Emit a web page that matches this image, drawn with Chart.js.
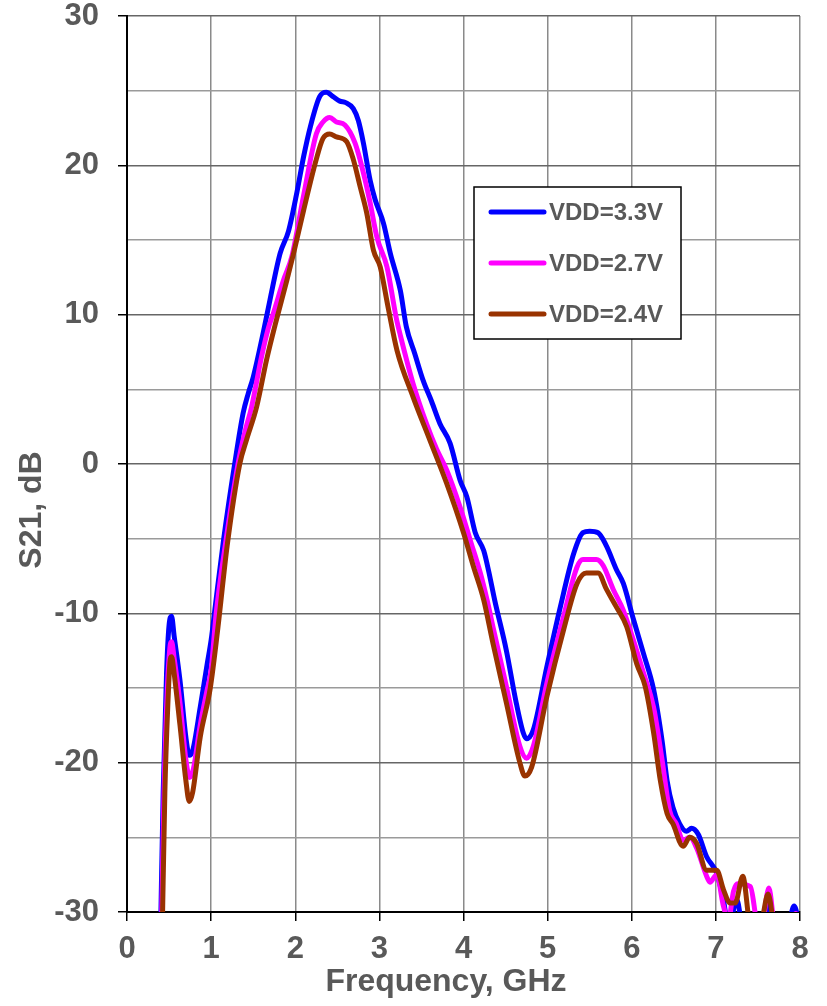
<!DOCTYPE html>
<html>
<head>
<meta charset="utf-8">
<script src="https://cdn.jsdelivr.net/npm/chart.js@4/dist/chart.umd.min.js"></script>
<style>
html,body{margin:0;padding:0;background:#fff;}
#wrap{width:827px;height:1006px;position:relative;}
</style>
</head>
<body>
<div id="wrap"><canvas id="c"></canvas></div>
<script>
// ---- Data ----
const seriesLabels = ['VDD=3.3V', 'VDD=2.7V', 'VDD=2.4V'];
const seriesColors = ['#0000FF', '#FF00FF', '#993300'];

const freq33 = [0.40,0.43,0.47,0.50,0.53,0.56,0.63,0.70,0.74,0.78,0.87,0.95,1.00,1.05,1.15,1.28,1.38,1.44,1.50,1.62,1.70,1.82,1.92,2.02,2.10,2.18,2.29,2.37,2.45,2.53,2.60,2.69,2.75,2.81,2.89,2.95,3.05,3.13,3.25,3.32,3.42,3.52,3.62,3.72,3.84,3.96,4.04,4.14,4.24,4.30,4.37,4.51,4.62,4.71,4.75,4.83,4.99,5.15,5.31,5.42,5.50,5.60,5.70,5.82,5.90,6.02,6.14,6.26,6.36,6.42,6.49,6.57,6.65,6.71,6.79,6.89,7.01,7.09,7.15,7.25,7.32,7.55,7.62,7.70,7.85,7.93,7.98,8.00];
const s21_33  = [-31,-22,-14,-10.8,-10.2,-11.5,-14.5,-18.3,-19.5,-19.2,-16.3,-13.5,-11.8,-9.5,-5.0,0.0,3.4,4.7,5.8,8.8,11.0,14.1,15.6,18.2,20.6,22.6,24.6,24.9,24.6,24.3,24.2,23.8,23.0,21.5,19.0,17.7,16.1,14.1,11.6,9.2,7.4,5.6,4.2,2.7,1.4,-1.1,-2.2,-4.6,-5.8,-7.2,-9.1,-12.5,-15.8,-18.0,-18.4,-17.8,-13.6,-9.6,-6.0,-4.6,-4.5,-4.6,-5.5,-7.1,-8.0,-10.4,-12.7,-15.1,-18.5,-21.2,-23.0,-24.1,-24.6,-24.4,-24.8,-26.3,-27.4,-29.2,-31,-29.2,-31,-31,-29.4,-31,-31,-29.6,-30.5,-31];

const freq27 = [0.41,0.44,0.48,0.51,0.53,0.56,0.63,0.70,0.745,0.79,0.87,0.95,1.00,1.06,1.18,1.32,1.40,1.48,1.60,1.68,1.74,1.86,1.96,2.10,2.25,2.33,2.41,2.49,2.59,2.71,2.81,2.89,2.97,3.09,3.20,3.25,3.40,3.56,3.68,3.80,3.96,4.08,4.20,4.28,4.35,4.51,4.67,4.75,4.83,4.99,5.19,5.35,5.42,5.58,5.66,5.78,5.90,6.02,6.14,6.26,6.36,6.45,6.53,6.61,6.69,6.77,6.89,6.93,7.01,7.09,7.15,7.21,7.26,7.41,7.50,7.56,7.63,7.70,7.90,7.95,8.00];
const s21_27  = [-31,-22,-15,-12.3,-11.9,-13,-16,-19.8,-21.0,-20.4,-17.5,-15.2,-13.8,-10.0,-5.0,0.0,2.1,3.8,7.2,9.1,10.1,12.3,13.9,18.0,22.1,22.9,23.2,22.9,22.7,21.5,19.5,17.5,15.2,13.2,9.8,8.6,5.4,2.7,1.0,-0.4,-2.9,-5.1,-7.3,-9.1,-10.9,-14.9,-18.9,-19.7,-18.9,-14.7,-10.2,-6.9,-6.4,-6.4,-6.8,-8.4,-9.8,-11.8,-14.0,-16.3,-19.8,-23.2,-24.1,-25.2,-25.0,-25.7,-27.6,-28.0,-27.5,-29.6,-30.5,-28.6,-28.1,-28.3,-30.8,-30.5,-28.4,-30.8,-30.5,-30.1,-30.5];

const freq24 = [0.42,0.45,0.49,0.51,0.53,0.56,0.63,0.70,0.74,0.78,0.87,0.99,1.08,1.19,1.34,1.42,1.54,1.66,1.76,1.90,1.98,2.10,2.25,2.33,2.41,2.49,2.61,2.69,2.77,2.85,2.93,3.01,3.10,3.21,3.40,3.60,3.80,4.00,4.12,4.24,4.35,4.51,4.67,4.73,4.81,4.99,5.19,5.35,5.46,5.60,5.70,5.82,5.94,6.06,6.16,6.26,6.34,6.42,6.49,6.61,6.69,6.77,6.89,7.01,7.09,7.17,7.23,7.32,7.41,7.53,7.62,7.69];
const s21_24  = [-31,-22,-15.5,-13.3,-12.9,-14,-17.5,-21.2,-22.6,-22.0,-18.3,-15.0,-11.0,-5.5,0.0,1.6,3.8,7.0,9.3,12.3,14.1,17.0,20.4,21.8,22.1,21.9,21.6,20.4,18.6,16.8,14.3,13.2,10.6,7.6,4.5,1.6,-1.3,-4.6,-6.9,-9.1,-12.0,-16.0,-20.0,-20.9,-20.3,-15.6,-11.1,-8.0,-7.3,-7.3,-8.4,-9.6,-10.9,-13.4,-14.9,-18.0,-21.2,-23.4,-24.1,-25.6,-25.0,-25.4,-27.2,-27.2,-28.5,-29.4,-29.4,-27.6,-30.8,-30.8,-28.8,-31];

const xTicks = [0,1,2,3,4,5,6,7,8];
const xTickLabels = ['0','1','2','3','4','5','6','7','8'];
const yTicks = [-30,-25,-20,-15,-10,-5,0,5,10,15,20,25,30];
const yTickLabels = ['-30','','-20','','-10','','0','','10','','20','','30'];
const xTitle = 'Frequency, GHz';
const yTitle = 'S21, dB';

// ---- Chart ----
const TEXT = '#595959';
const FONT = '"Liberation Sans", Arial, sans-serif';
const toPts = (xs, ys) => xs.map((x, i) => ({x: x, y: ys[i]}));
const allFreq = [freq33, freq27, freq24];
const allS21 = [s21_33, s21_27, s21_24];

const datasets = seriesLabels.map((lab, i) => ({
  label: lab,
  data: toPts(allFreq[i], allS21[i]),
  borderColor: seriesColors[i],
  backgroundColor: seriesColors[i],
  borderWidth: 5,
  pointRadius: 0,
  fill: false,
  cubicInterpolationMode: 'monotone',
  order: 3 - i
}));

const legendPlugin = {
  id: 'boxLegend',
  afterDraw(chart) {
    const ctx = chart.ctx;
    const x0 = 474, y0 = 187, w = 207, h = 152;
    ctx.save();
    ctx.fillStyle = '#ffffff';
    ctx.fillRect(x0, y0, w, h);
    ctx.strokeStyle = '#000000';
    ctx.lineWidth = 1.5;
    ctx.strokeRect(x0, y0, w, h);
    ctx.font = 'bold 24px ' + FONT;
    ctx.textBaseline = 'middle';
    ctx.textAlign = 'left';
    chart.data.datasets.forEach((ds, i) => {
      const y = 212 + i * 51;
      ctx.strokeStyle = ds.borderColor;
      ctx.lineWidth = 5;
      ctx.lineCap = 'round';
      ctx.beginPath();
      ctx.moveTo(491, y);
      ctx.lineTo(544, y);
      ctx.stroke();
      ctx.fillStyle = TEXT;
      ctx.fillText(ds.label, 549, y + 1);
    });
    ctx.restore();
  }
};

const titlePlugin = {
  id: 'axisTitles',
  afterDraw(chart) {
    const ctx = chart.ctx;
    ctx.save();
    ctx.fillStyle = TEXT;
    ctx.font = 'bold 32px ' + FONT;
    ctx.textAlign = 'center';
    ctx.textBaseline = 'middle';
    ctx.fillText(xTitle, 446, 982);
    ctx.translate(32, 510);
    ctx.rotate(-Math.PI / 2);
    ctx.fillText(yTitle, 0, 0);
    ctx.restore();
  }
};

new Chart(document.getElementById('c'), {
  type: 'line',
  data: { datasets: datasets },
  plugins: [legendPlugin, titlePlugin],
  options: {
    responsive: true,
    maintainAspectRatio: false,
    animation: false,
    events: [],
    layout: { padding: { top: 16, right: 27, bottom: 0, left: 0 } },
    plugins: { legend: { display: false }, tooltip: { enabled: false }, title: { display: false } },
    scales: {
      x: {
        type: 'linear',
        min: 0, max: 8,
        afterFit(s) { s.height = 94; s.paddingLeft = 0; s.paddingRight = 0; },
        afterBuildTicks(s) { s.ticks = xTicks.map(v => ({value: v})); },
        ticks: {
          callback: (v) => { const k = xTicks.indexOf(v); return k >= 0 ? xTickLabels[k] : ''; },
          font: { family: FONT, size: 31, weight: 'bold', lineHeight: 1 },
          color: TEXT,
          padding: 13,
          maxRotation: 0, autoSkip: false
        },
        grid: { color: '#8a8a8a', lineWidth: 1.5, tickLength: 9, tickColor: '#000000', tickWidth: 1.5 },
        border: { color: '#000000', width: 2 },
        title: { display: false }
      },
      y: {
        type: 'linear',
        min: -30, max: 30,
        afterFit(s) { s.width = 127; s.paddingTop = 0; s.paddingBottom = 0; },
        afterBuildTicks(s) { s.ticks = yTicks.map(v => ({value: v})); },
        ticks: {
          callback: (v) => { const k = yTicks.indexOf(v); return k >= 0 ? yTickLabels[k] : ''; },
          font: { family: FONT, size: 31, weight: 'bold', lineHeight: 1 },
          color: TEXT,
          padding: 19,
          autoSkip: false
        },
        grid: {
          color: (c) => (c.tick && c.tick.value % 10 === 0) ? '#666666' : '#9a9a9a',
          lineWidth: 1.5,
          tickLength: 9,
          tickWidth: 1.5,
          tickColor: (c) => (c.tick && c.tick.value % 10 === 0) ? '#000000' : 'rgba(0,0,0,0)'
        },
        border: { color: '#000000', width: 2 },
        title: { display: false }
      }
    }
  }
});
</script>
</body>
</html>
